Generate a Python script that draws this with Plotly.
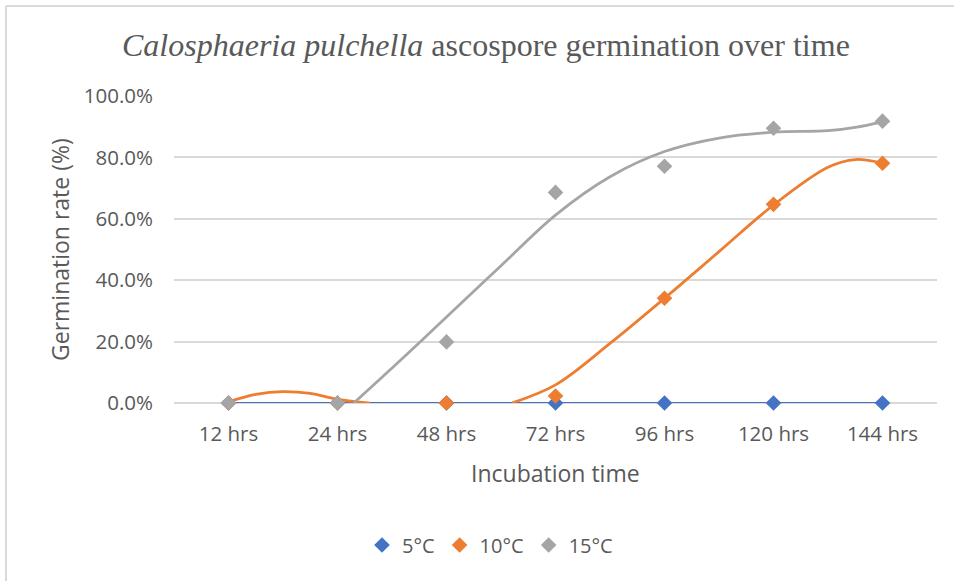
import plotly.graph_objects as go

# categories and measured values
times = ["12 hrs", "24 hrs", "48 hrs", "72 hrs", "96 hrs", "120 hrs", "144 hrs"]
rate_5c = [0.0, 0.0, 0.0, 0.0, 0.0, 0.0, 0.0]
rate_10c = [0.0, 0.0, 0.0, 0.023, 0.341, 0.647, 0.781]
rate_15c = [0.0, 0.0, 0.199, 0.686, 0.771, 0.895, 0.918]

# trendlines (x in category index)
trend_5c_x = [0, 6]
trend_5c_y = [0.0, 0.0]
trend_10c_x = [0, 0.25, 0.5, 0.75, 1.0, 1.3, None, 2.6, 3.0, 3.5, 4.0, 4.5, 5.0, 5.5, 5.75, 6.0]
trend_10c_y = [0.004, 0.028, 0.037, 0.031, 0.012, 0.0, None, 0.0, 0.059, 0.194, 0.341, 0.493, 0.645, 0.768, 0.793, 0.781]
trend_15c_x = [1.15, 1.58, 2.0, 2.5, 3.0, 3.5, 4.0, 4.5, 5.0, 5.5, 5.75, 6.0]
trend_15c_y = [0.0, 0.14, 0.28, 0.447, 0.612, 0.737, 0.819, 0.863, 0.882, 0.887, 0.898, 0.916]

colors = {"5°C": "#4472C4", "10°C": "#ED7D31", "15°C": "#A5A5A5"}
font_sans = "Open Sans"
text_color = "#595959"

fig = go.Figure()

# ==========================================
# TRENDLINES
# ==========================================
for name, tx, ty, w in [("5°C", trend_5c_x, trend_5c_y, 2),
                        ("10°C", trend_10c_x, trend_10c_y, 2.75),
                        ("15°C", trend_15c_x, trend_15c_y, 2.75)]:
    fig.add_trace(go.Scatter(
        x=tx, y=ty, mode="lines",
        line=dict(color=colors[name], width=w, shape="spline", smoothing=1.0),
        connectgaps=False, showlegend=False, hoverinfo="skip"
    ))

# ==========================================
# MARKERS
# ==========================================
idx = list(range(len(times)))
for name, vals in [("5°C", rate_5c), ("10°C", rate_10c), ("15°C", rate_15c)]:
    fig.add_trace(go.Scatter(
        x=idx, y=vals, mode="markers", name=name,
        marker=dict(symbol="diamond", size=12, color=colors[name]),
        cliponaxis=False
    ))


def px_x(p):
    return (p - 174) / 763


def px_y(p):
    return (403 - p) / 307


border = dict(color="#D9D9D9", width=2)

fig.update_layout(
    width=954, height=581,
    margin=dict(l=174, r=17, t=96, b=178),
    paper_bgcolor="white", plot_bgcolor="white",
    font=dict(family=font_sans, color=text_color, size=20),
    showlegend=True,
    legend=dict(orientation="h", x=px_x(490), y=px_y(545),
                xanchor="center", yanchor="middle",
                font=dict(size=20, color=text_color), itemwidth=30),
    xaxis=dict(range=[-0.5, 6.5], tickvals=idx, ticktext=times,
               showgrid=False, zeroline=False, showline=False,
               ticklabelstandoff=16, tickfont=dict(size=20.5, color=text_color)),
    yaxis=dict(range=[0, 1], dtick=0.2, tickformat=".1%",
               showgrid=True, gridcolor="#D9D9D9", gridwidth=1.5,
               zeroline=True, zerolinecolor="#D9D9D9", zerolinewidth=1.5,
               showline=False, ticklabelstandoff=20,
               tickfont=dict(size=20.5, color=text_color)),
    annotations=[
        dict(text="<i>Calosphaeria pulchella</i> ascospore germination over time",
             xref="paper", yref="paper", x=px_x(486), y=px_y(45),
             xanchor="center", yanchor="middle", showarrow=False,
             font=dict(family="Liberation Serif", size=32, color=text_color)),
        dict(text="Germination rate (%)", xref="paper", yref="paper",
             x=px_x(60), y=px_y(250), xanchor="center", yanchor="middle",
             textangle=-90, showarrow=False,
             font=dict(size=23, color=text_color)),
        dict(text="Incubation time", xref="paper", yref="paper",
             x=px_x(555), y=px_y(473), xanchor="center", yanchor="middle",
             showarrow=False, font=dict(size=23, color=text_color)),
    ],
    shapes=[
        # chart-area frame: only top and left edges fall inside the picture
        dict(type="line", xref="paper", yref="paper",
             x0=px_x(6), y0=px_y(6), x1=px_x(960), y1=px_y(6), line=border),
        dict(type="line", xref="paper", yref="paper",
             x0=px_x(6), y0=px_y(6), x1=px_x(6), y1=px_y(590), line=border),
    ],
)

# page body has an 8px default margin; drop it so the chart sits at 0,0
fig.write_html("out.html", config={"displayModeBar": False},
               post_script="document.body.style.margin='0';")
